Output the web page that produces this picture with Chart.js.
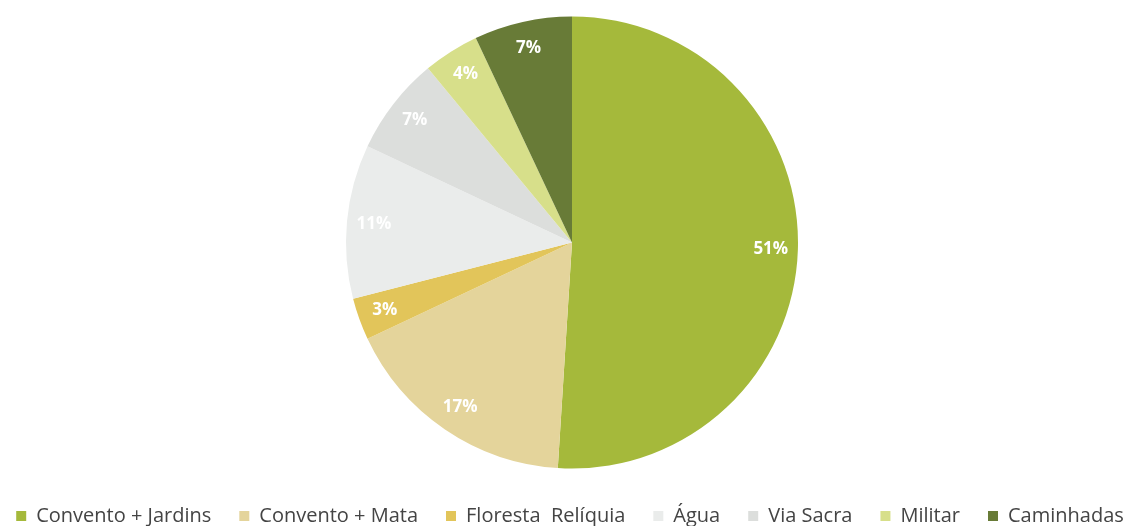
<!DOCTYPE html>
<html>
<head>
<meta charset="utf-8">
<script src="https://cdn.jsdelivr.net/npm/chart.js@4.4.1/dist/chart.umd.min.js"></script>
<style>
html,body{margin:0;padding:0;background:#fff;}
#wrap{width:1144px;height:526px;position:relative;}
</style>
</head>
<body>
<div id="wrap"><canvas id="c" width="1144" height="526"></canvas></div>
<script>
const categories = ["Convento + Jardins", "Convento + Mata", "Floresta  Relíquia", "Água", "Via Sacra", "Militar", "Caminhadas"];
const shares = [51, 17, 3, 11, 7, 4, 7];
const colors = ["#a5b93b", "#e4d49b", "#e2c55a", "#eaeceb", "#dcdedc", "#d7df8a", "#687b37"];

const labelPlugin = {
  id: 'sliceLabels',
  afterDatasetsDraw(chart) {
    const ctx = chart.ctx;
    const meta = chart.getDatasetMeta(0);
    ctx.save();
    ctx.fillStyle = '#ffffff';
    ctx.font = 'bold 17px "Open Sans", Lato, sans-serif';
    ctx.textAlign = 'center';
    ctx.textBaseline = 'middle';
    meta.data.forEach((arc, i) => {
      const p = arc.getProps(['x','y','startAngle','endAngle','outerRadius'], true);
      const mid = (p.startAngle + p.endAngle) / 2;
      const r = p.outerRadius * 0.88;
      ctx.fillText(shares[i] + '%', p.x + Math.cos(mid) * r, p.y + Math.sin(mid) * r);
    });
    ctx.restore();
  }
};

new Chart(document.getElementById('c'), {
  type: 'pie',
  data: {
    labels: categories,
    datasets: [{
      data: shares,
      backgroundColor: colors,
      borderWidth: 0,
      radius: 226
    }]
  },
  options: {
    responsive: false,
    animation: false,
    layout: { padding: { top: 7, bottom: -10, left: -17, right: -13 } },
    plugins: {
      tooltip: { enabled: false },
      legend: {
        position: 'bottom',
        labels: {
          boxWidth: 10,
          boxHeight: 10,
          padding: 28,
          color: '#444',
          font: { family: '"Open Sans", Lato, sans-serif', size: 20 }
        }
      }
    }
  },
  plugins: [labelPlugin]
});
</script>
</body>
</html>
